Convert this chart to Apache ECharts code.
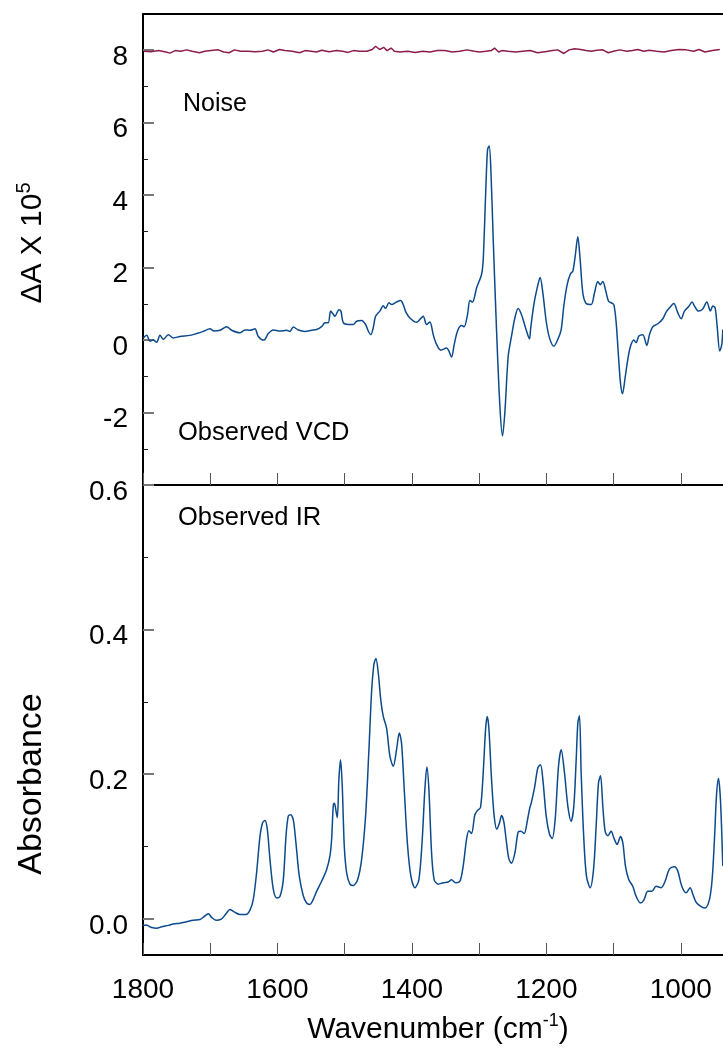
<!DOCTYPE html>
<html>
<head>
<meta charset="utf-8">
<script src="https://cdn.jsdelivr.net/npm/echarts@6/dist/echarts.min.js"></script>
<style>
  html, body { margin: 0; padding: 0; background: #fff; }
  #chart { width: 723px; height: 1051px; }
</style>
</head>
<body>
<div id="chart"></div>
<script>
// wavenumber axis (cm-1), drawn high -> low
const xTicks = [1800, 1600, 1400, 1200, 1000];

// noise trace, offset to ~8 on the VCD scale
const noiseWn = [1799, 1788, 1777, 1766, 1760, 1752, 1744, 1735, 1727, 1716, 1708, 1699, 1688, 1680, 1672, 1664,
  1655, 1644, 1633, 1622, 1614, 1606, 1597, 1589, 1578, 1567, 1559, 1550, 1542, 1534, 1523, 1512, 1503, 1495,
  1487, 1478, 1467, 1459, 1454, 1448, 1442, 1437, 1431, 1426, 1418, 1406, 1395, 1384, 1373, 1362, 1351, 1340,
  1329, 1318, 1307, 1299, 1290, 1282, 1277, 1271, 1266, 1257, 1246, 1235, 1224, 1213, 1202, 1191, 1183, 1174,
  1166, 1158, 1149, 1141, 1133, 1125, 1116, 1108, 1100, 1091, 1080, 1072, 1064, 1055, 1047, 1036, 1025, 1014,
  1003, 992, 981, 973, 964, 953, 942];
const noiseVal = [7.97, 7.96, 7.99, 7.95, 7.92, 7.99, 7.97, 8.01, 7.97, 7.93, 7.97, 7.99, 8.01, 7.95, 7.93, 8.01,
  7.97, 7.97, 7.96, 7.97, 8.01, 7.95, 8.02, 7.99, 7.97, 7.93, 7.99, 7.97, 7.95, 8.00, 7.96, 7.99, 7.97, 7.94,
  7.99, 7.97, 7.97, 8.02, 8.11, 8.02, 8.08, 7.99, 8.06, 7.97, 7.95, 7.97, 7.94, 7.97, 7.95, 7.99, 7.99, 7.95,
  7.97, 8.01, 7.97, 7.95, 7.97, 7.99, 8.06, 7.95, 7.99, 7.97, 7.95, 7.97, 7.99, 7.93, 7.96, 7.99, 8.01, 7.91,
  8.01, 8.04, 8.02, 7.99, 7.97, 8.00, 8.01, 7.93, 7.97, 8.01, 7.97, 7.99, 8.02, 7.97, 8.00, 7.97, 7.95, 7.99,
  8.02, 8.01, 7.97, 8.02, 7.95, 7.99, 8.02];

// observed VCD (dA x 1e5)
const vcdWn = [1799.5, 1794.5, 1789.6, 1784.6, 1779.7, 1774.7, 1769.8, 1762.3, 1754.9, 1745, 1730.1, 1720.2, 1710.3,
  1700.4, 1694.4, 1685.5, 1675.6, 1668.2, 1655.8, 1648.3, 1640.9, 1633.5, 1628.5, 1620.1, 1613.6, 1606.2, 1596.3,
  1586.3, 1581.4, 1576.4, 1569, 1559.1, 1549.2, 1541.7, 1534.3, 1529.3, 1524.4, 1520.9, 1516.9,
  1514.5, 1508.6, 1505.6, 1502.1, 1494.7, 1487.2, 1482.3, 1474.8, 1468.9, 1464.9, 1461, 1457.5, 1454, 1447.6,
  1442.6, 1439.2, 1434.2, 1430.2, 1422.8, 1416.8, 1412.9, 1408.9, 1403, 1393.1, 1388.1, 1383.1, 1378.2, 1373.2,
  1368.3, 1363.3, 1356.9, 1348.4, 1345, 1341, 1337, 1332.1, 1326.1, 1322.2, 1317.2, 1313.7, 1309.8, 1303.8,
  1296.4, 1293.9, 1290.4, 1287.5, 1285, 1282.5, 1279, 1274.1, 1269.1, 1265.2, 1261.7, 1256.7, 1251.8, 1246.8,
  1241.9, 1236.9, 1229.5, 1225,
  1223.5, 1218.6, 1213.6, 1209.2, 1205.2, 1200.2, 1195.3, 1188.8, 1182.9, 1177.9, 1174, 1169, 1164.1, 1160.6,
  1157.1, 1153.2, 1149.7, 1145.7, 1140.8, 1133.3, 1128.4, 1123.4, 1120, 1116, 1112, 1107.5, 1103.6, 1099.6,
  1096.1, 1092.7, 1089.7, 1086.7, 1082.8, 1078.8, 1074.8, 1069.9, 1066.4, 1062.4, 1056.5, 1050.5, 1046.6,
  1041.6, 1034.1, 1026.7, 1021.8, 1016.8, 1010.4, 1004.4, 999.5, 994.5, 988.6, 983.1, 979.7, 973.7, 967.3,
  961.3, 955.9, 952.4, 948.9, 945.9, 942, 939, 937.5];
const vcdVal = [0.06, 0.13, -0.03, 0.0, -0.06, 0.13, 0.02, 0.15, 0.06, 0.10, 0.13, 0.18, 0.24,
  0.31, 0.25, 0.27, 0.37, 0.27, 0.20, 0.28, 0.27, 0.31, 0.10, 0.0, 0.18, 0.28, 0.25,
  0.27, 0.24, 0.36, 0.28, 0.24, 0.27, 0.29, 0.37, 0.48, 0.48, 0.80, 0.71,
  0.66, 0.84, 0.80, 0.48, 0.43, 0.43, 0.52, 0.54, 0.43, 0.25, 0.15, 0.34, 0.66, 0.80,
  0.95, 0.87, 1.03, 0.98, 1.05, 1.09, 0.98, 0.77, 0.61, 0.49, 0.57, 0.66, 0.43, 0.50,
  0.15, -0.12, -0.28, -0.22, -0.30, -0.47, -0.12, 0.25, 0.40, 0.37, 0.71, 1.09, 1.05, 1.44,
  1.81, 2.22, 3.97, 5.25, 5.36, 4.70, 2.77, 0.29, -1.82, -2.65, -2.00, -0.44, 0.11, 0.61,
  0.87, 0.70, 0.25, 0.03,
  0.29, 0.98, 1.44, 1.73, 1.30, 0.52, 0.06, -0.17, 0.02, 0.29, 0.94, 1.53, 1.83, 1.90,
  2.31, 2.85, 2.22, 1.30, 1.01, 0.98, 1.30, 1.62, 1.53, 1.62, 1.39, 1.07, 1.03, 0.98,
  0.48, -0.44, -1.18, -1.48, -1.04, -0.53, -0.17, 0.0, -0.07, 0.11, 0.15, -0.15, 0.15,
  0.37, 0.45, 0.59, 0.77, 0.89, 1.01, 0.75, 0.59, 0.80, 0.92, 1.05, 0.94, 0.80, 0.86,
  1.05, 0.80, 0.94, 0.89, 0.38, -0.30, -0.12, 0.29];

// observed IR absorbance
const irWn = [1800.5, 1794.5, 1787.1, 1779.7, 1772.2, 1762.3, 1754.9, 1745, 1735.1, 1725.1, 1715.2, 1709.3, 1702.8,
  1697.9, 1691.4, 1683, 1676.6, 1670.6, 1663.2, 1655.8, 1646.8, 1640.9, 1635.9, 1631, 1626, 1622.1, 1618.6,
  1615.1, 1611.1, 1606.2, 1601.2, 1596.3, 1591.3, 1587.3, 1583.9, 1580.4, 1576.4, 1572.5, 1567.5, 1561.6,
  1556.6, 1551.7, 1546.7, 1541.7, 1534.3, 1526.9, 1521.9, 1519.4, 1517, 1515.5,
  1514.5, 1511, 1508.6, 1506.1, 1503.6, 1500.6, 1497.1, 1492.2, 1487.2, 1480.8, 1474.8, 1468.9, 1463.9, 1460,
  1456.5, 1453.5, 1450, 1446.1, 1442.6, 1437.7, 1432.7, 1427.7, 1422.8, 1418.8, 1415.4, 1411.4, 1406.4, 1401.5,
  1395.5, 1389.6, 1384.6, 1380.7, 1377.7, 1374.7, 1370.7, 1366.8, 1360.8, 1353.4, 1345.9, 1341, 1335, 1328.6,
  1323.7, 1318.7, 1315.2, 1311.3, 1306.3, 1302.3, 1297.9, 1293.9, 1290.4, 1288, 1285.5, 1281.5, 1277.6, 1273.6,
  1269.6, 1266.6, 1263.2, 1259.2, 1255.7, 1251.8, 1246.8, 1241.9, 1237.9, 1233, 1228,
  1224.5, 1222.5, 1217.6, 1212.6, 1208.7, 1205.2, 1200.2, 1195.3, 1191.3, 1186.9, 1181.9, 1177.9, 1173, 1168,
  1163.1, 1159.1, 1155.6, 1153.1, 1150.7, 1148.2, 1144.2, 1140.3, 1134.8, 1129.8, 1125.9, 1122.4, 1119.4, 1116,
  1112.5, 1108.5, 1103.6, 1099.6, 1094.7, 1089.7, 1086.2, 1082.3, 1077.3, 1071.4, 1066.4, 1060, 1055, 1049,
  1043.1, 1036.7, 1029.2, 1023.3, 1016.8, 1009.4, 1004.4, 998.5, 992, 986.1, 982.1, 977.2, 969.7, 963.8, 957.3,
  953.4, 949.9, 946.9, 944, 941, 937.5];
const irVal = [-0.009, -0.009, -0.012, -0.013, -0.011, -0.009, -0.007, -0.006, -0.004, -0.002, -0.001, 0.003, 0.007,
  0.002, -0.002, 0.0, 0.007, 0.013, 0.009, 0.006, 0.006, 0.012, 0.027, 0.064, 0.114, 0.133, 0.136,
  0.124, 0.082, 0.041, 0.029, 0.031, 0.054, 0.114, 0.142, 0.144, 0.137, 0.105, 0.059, 0.032,
  0.022, 0.020, 0.027, 0.038, 0.052, 0.068, 0.087, 0.110, 0.156, 0.160,
  0.158, 0.140, 0.193, 0.220, 0.184, 0.101, 0.064, 0.048, 0.046, 0.054, 0.082, 0.142, 0.234, 0.313,
  0.352, 0.360, 0.340, 0.301, 0.280, 0.264, 0.225, 0.211, 0.234, 0.257, 0.243, 0.179, 0.101, 0.059,
  0.043, 0.054, 0.110, 0.179, 0.210, 0.179, 0.091, 0.054, 0.048, 0.050, 0.051, 0.054, 0.050, 0.052,
  0.073, 0.110, 0.122, 0.118, 0.144, 0.150, 0.154, 0.202, 0.262, 0.280, 0.264, 0.193, 0.142, 0.124,
  0.133, 0.143, 0.134, 0.105, 0.083, 0.077, 0.091, 0.120, 0.121, 0.118, 0.137,
  0.154, 0.160, 0.181, 0.209, 0.213, 0.193, 0.142, 0.117, 0.111, 0.137, 0.211, 0.234, 0.202, 0.156,
  0.135, 0.156, 0.220, 0.271, 0.281, 0.202, 0.110, 0.059, 0.043, 0.068, 0.128, 0.188, 0.198, 0.156,
  0.121, 0.115, 0.121, 0.112, 0.103, 0.114, 0.105, 0.073, 0.054, 0.045, 0.031, 0.022, 0.026, 0.038,
  0.038, 0.045, 0.043, 0.052, 0.069, 0.072, 0.066, 0.045, 0.036, 0.043, 0.034, 0.023, 0.017, 0.015, 0.027,
  0.054, 0.110, 0.170, 0.194, 0.165, 0.073];

// y tick values
const vcdMajor = [-2, 0, 2, 4, 6, 8];
const vcdMinor = [-3, -1, 1, 3, 5, 7];
const irMajor = [0.0, 0.2, 0.4, 0.6];
const irMinor = [0.1, 0.3, 0.5];

function pairs(xs, ys) {
  return xs.map((x, i) => [x, ys[i]]);
}

const FONT = "'Liberation Sans', Arial, Helvetica, sans-serif";
const LINE_BLUE = "#0c4a8c";
const NOISE_RED = "#8c1c4e";

var dom = document.getElementById("chart");
var myChart = echarts.init(dom, null, { renderer: "canvas" });

// the plot runs past the right edge of the picture (cropped at ~937 cm-1)
const grids = [
  { left: 143, top: 14, width: 605, height: 471, outerBoundsMode: "none", containLabel: false },
  { left: 143, top: 485, width: 605, height: 470, outerBoundsMode: "none", containLabel: false },
];

function xAxisFor(gridIndex, opts) {
  return Object.assign(
    {
      type: "value",
      gridIndex: gridIndex,
      min: 900,
      max: 1800,
      interval: 100,
      inverse: true,
      position: "bottom",
      splitLine: { show: false },
      axisLine: { show: true, onZero: false, lineStyle: { color: "#000", width: 2 } },
      axisTick: { show: true, inside: true, length: 12, lineStyle: { color: "#555", width: 1 } },
      axisLabel: { show: false },
    },
    opts
  );
}

// main y axis (long ticks + labels) and a companion for the short minor ticks
function yAxesFor(gridIndex, min, max, major, minor, fmt) {
  return [
    {
      type: "value",
      gridIndex: gridIndex,
      position: "left",
      min: min,
      max: max,
      splitLine: { show: false },
      axisLine: { show: true, onZero: false, lineStyle: { color: "#000", width: 2 } },
      axisTick: { show: true, inside: true, length: 11, customValues: major, lineStyle: { color: "#777", width: 2 } },
      axisLabel: {
        show: true,
        customValues: major,
        formatter: fmt,
        fontFamily: FONT,
        fontSize: 28,
        color: "#000",
        margin: 15,
        verticalAlign: "top",
        lineHeight: 14,
      },
    },
    {
      type: "value",
      gridIndex: gridIndex,
      position: "left",
      min: min,
      max: max,
      splitLine: { show: false },
      axisLine: { show: false, onZero: false },
      axisTick: { show: true, inside: true, length: 5, customValues: minor, lineStyle: { color: "#222", width: 1 } },
      axisLabel: { show: false },
    },
  ];
}

const option = {
  backgroundColor: "#fff",
  animation: false,
  grid: grids,
  xAxis: [
    xAxisFor(0, {}),
    // top frame line of the VCD panel
    xAxisFor(0, { position: "top", axisTick: { show: false } }),
    xAxisFor(1, {
      axisLabel: {
        show: true,
        fontFamily: FONT,
        fontSize: 28,
        color: "#000",
        margin: 21,
        showMinLabel: true,
        formatter: function (v) {
          return xTicks.indexOf(v) >= 0 ? String(v) : "";
        },
      },
    }),
  ],
  yAxis: [].concat(
    yAxesFor(0, -4, 9, vcdMajor, vcdMinor, function (v) {
      return String(v);
    }),
    yAxesFor(1, -0.05, 0.6, irMajor, irMinor, function (v) {
      return v.toFixed(1);
    })
  ),
  series: [
    {
      name: "Noise",
      type: "line",
      xAxisIndex: 0,
      yAxisIndex: 0,
      data: pairs(noiseWn, noiseVal),
      showSymbol: false,
      smooth: false,
      lineStyle: { color: NOISE_RED, width: 1.5 },
    },
    {
      name: "Observed VCD",
      type: "line",
      xAxisIndex: 0,
      yAxisIndex: 0,
      data: pairs(vcdWn, vcdVal),
      showSymbol: false,
      smooth: 0.3,
      lineStyle: { color: LINE_BLUE, width: 1.5 },
    },
    {
      name: "Observed IR",
      type: "line",
      xAxisIndex: 2,
      yAxisIndex: 2,
      data: pairs(irWn, irVal),
      showSymbol: false,
      smooth: 0.3,
      lineStyle: { color: LINE_BLUE, width: 1.5 },
    },
  ],
  graphic: [
    { type: "text", x: 183, y: 104, style: { text: "Noise", fontFamily: FONT, fontSize: 25, fill: "#000", textVerticalAlign: "middle" } },
    { type: "text", x: 178, y: 433, style: { text: "Observed VCD", fontFamily: FONT, fontSize: 25.5, fill: "#000", textVerticalAlign: "middle" } },
    { type: "text", x: 178, y: 518, style: { text: "Observed IR", fontFamily: FONT, fontSize: 25.5, fill: "#000", textVerticalAlign: "middle" } },
    {
      type: "text",
      x: 33,
      y: 243,
      rotation: Math.PI / 2,
      style: {
        text: "{a|ΔA X 10}{s|5}",
        textAlign: "center",
        textVerticalAlign: "middle",
        rich: {
          a: { fontFamily: FONT, fontSize: 30, fill: "#000", lineHeight: 38 },
          s: { fontFamily: FONT, fontSize: 20, fill: "#000", verticalAlign: "top", lineHeight: 38 },
        },
      },
    },
    {
      type: "text",
      x: 32,
      y: 784,
      rotation: Math.PI / 2,
      style: { text: "Absorbance", fontFamily: FONT, fontSize: 34, fill: "#000", textAlign: "center", textVerticalAlign: "middle" },
    },
    {
      type: "text",
      x: 438,
      y: 1030,
      style: {
        text: "{a|Wavenumber (cm}{s|-1}{a|)}",
        textAlign: "center",
        textVerticalAlign: "middle",
        rich: {
          a: { fontFamily: FONT, fontSize: 30, fill: "#000", lineHeight: 36 },
          s: { fontFamily: FONT, fontSize: 18, fill: "#000", verticalAlign: "top", lineHeight: 36 },
        },
      },
    },
  ],
};

myChart.setOption(option);
</script>
</body>
</html>
